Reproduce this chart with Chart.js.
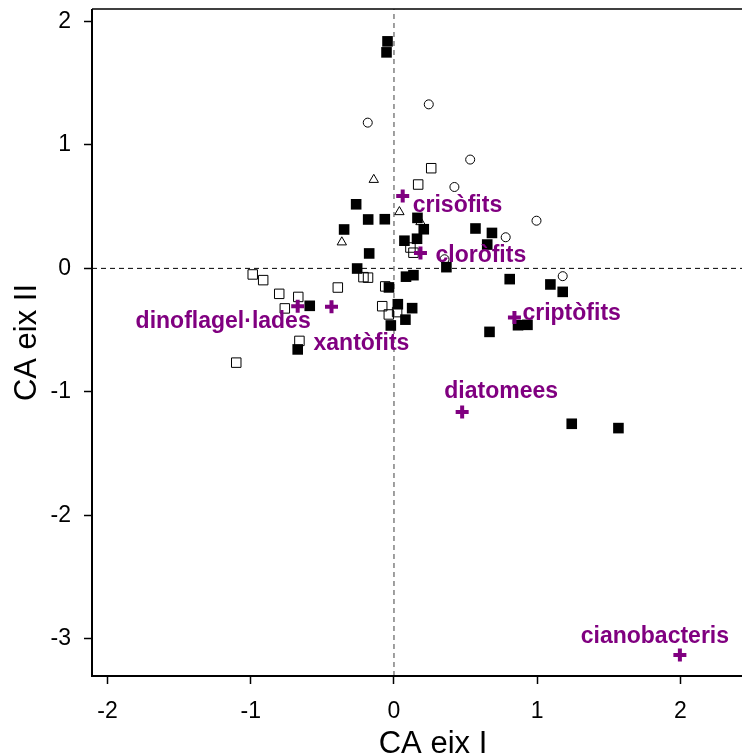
<!DOCTYPE html>
<html>
<head>
<meta charset="utf-8">
<script src="https://cdn.jsdelivr.net/npm/chart.js@4"></script>
<style>
  html, body { margin: 0; padding: 0; background: #fff; overflow: hidden; }
</style>
</head>
<body>
<canvas id="ca-chart" width="774" height="755"></canvas>
<script>
// Sample scores (filled squares)
const filledX = [-0.045, -0.052, -0.264, -0.180, -0.064, -0.348, 0.164, 0.208, 0.073, 0.161, -0.173, -0.257, 0.084, 0.136, 0.366, -0.035, -0.588, 0.027, 0.127, 0.080, -0.022, -0.672, 0.569, 0.684, 0.651, 0.808, 1.092, 1.178, 0.667, 0.866, 0.932, 1.241, 1.567];
const filledY = [1.838, 1.749, 0.519, 0.396, 0.398, 0.315, 0.409, 0.317, 0.224, 0.240, 0.121, -0.001, -0.067, -0.055, 0.010, -0.154, -0.303, -0.290, -0.322, -0.415, -0.462, -0.656, 0.323, 0.287, 0.193, -0.087, -0.130, -0.190, -0.514, -0.460, -0.457, -1.258, -1.293];

// Sample scores (open squares)
const openX = [0.260, 0.169, -0.986, -0.913, -0.801, -0.668, -0.762, -0.392, -0.660, -1.101, -0.213, -0.181, -0.061, -0.082, -0.036, 0.022, 0.115, 0.136];
const openY = [0.811, 0.679, -0.049, -0.095, -0.206, -0.231, -0.324, -0.155, -0.587, -0.763, -0.071, -0.075, -0.146, -0.306, -0.373, -0.354, 0.169, 0.127];

// Sample scores (open circles)
const circleX = [0.243, -0.183, 0.532, 0.422, 0.995, 0.780, 1.178, 0.353];
const circleY = [1.328, 1.180, 0.881, 0.659, 0.386, 0.252, -0.063, 0.074];

// Sample scores (open triangles)
const triX = [-0.141, 0.038, -0.364, 0.185];
const triY = [0.718, 0.457, 0.212, 0.376];

// Taxa scores
const taxa = ['crisòfits', 'cloròfits', 'dinoflagel·lades', 'xantòfits', 'criptòfits', 'diatomees', 'cianobacteris'];
const taxaX = [0.061, 0.185, -0.672, -0.436, 0.841, 0.476, 1.996];
const taxaY = [0.587, 0.125, -0.306, -0.311, -0.397, -1.163, -3.130];

const xTicks = [-2, -1, 0, 1, 2];
const yTicks = [-3, -2, -1, 0, 1, 2];
const xMin = -2.108, xMax = 2.653;
const yMin = -3.3, yMax = 2.1;

const purple = '#800080';
const labelOffsets = [
    { dx: 10, dy: 16, align: 'left' },
    { dx: 15, dy: 9, align: 'left' },
    { dx: 13, dy: 22, align: 'right' },
    { dx: -18, dy: 43, align: 'left' },
    { dx: 8, dy: 3, align: 'left' },
    { dx: 39, dy: -14, align: 'center' },
    { dx: -25, dy: -12, align: 'center' }
];

const pts = (xs, ys) => xs.map((v, i) => ({ x: v, y: ys[i] }));

// frame: box round the plot area
const frame = {
    id: 'frame',
    afterDraw(chart) {
        const { ctx, chartArea: a } = chart;
        ctx.save();
        ctx.strokeStyle = '#000';
        ctx.lineWidth = 1.5;
        ctx.beginPath();
        ctx.moveTo(a.left, a.top);
        ctx.lineTo(a.right, a.top);
        ctx.stroke();
        ctx.lineWidth = 2;
        ctx.beginPath();
        ctx.moveTo(a.left, a.top);
        ctx.lineTo(a.left, a.bottom);
        ctx.lineTo(a.right, a.bottom);
        ctx.stroke();
        ctx.restore();
    }
};

// taxa names next to the crosses
const taxaLabels = {
    id: 'taxaLabels',
    afterDatasetsDraw(chart) {
        const { ctx, scales: { x, y } } = chart;
        ctx.save();
        ctx.font = 'bold 23px "Liberation Sans", Arial, sans-serif';
        ctx.fillStyle = purple;
        ctx.textBaseline = 'alphabetic';
        taxa.forEach((name, i) => {
            const o = labelOffsets[i];
            ctx.textAlign = o.align;
            ctx.fillText(name, x.getPixelForValue(taxaX[i]) + o.dx, y.getPixelForValue(taxaY[i]) + o.dy);
        });
        ctx.restore();
    }
};

const tickFont = { family: '"Liberation Sans", Arial, sans-serif', size: 23 };
const titleFont = { family: '"Liberation Sans", Arial, sans-serif', size: 31 };

new Chart(document.getElementById('ca-chart').getContext('2d'), {
    type: 'scatter',
    data: {
        datasets: [
            {
                data: pts(taxaX, taxaY),
                pointStyle: 'cross', pointRadius: 6.5,
                borderColor: purple, borderWidth: 4,
                order: 0
            },
            {
                data: pts(filledX, filledY),
                pointStyle: 'rect', pointRadius: 7.5,
                backgroundColor: '#000', borderColor: '#000', borderWidth: 0,
                order: 1
            },
            {
                data: pts(triX, triY),
                pointStyle: 'triangle', pointRadius: 5.4,
                backgroundColor: 'rgba(0,0,0,0)', borderColor: '#000', borderWidth: 1,
                order: 2
            },
            {
                data: pts(circleX, circleY),
                pointStyle: 'circle', pointRadius: 4.5,
                backgroundColor: 'rgba(0,0,0,0)', borderColor: '#000', borderWidth: 1,
                order: 3
            },
            {
                data: pts(openX, openY),
                pointStyle: 'rect', pointRadius: 6.7,
                backgroundColor: 'rgba(0,0,0,0)', borderColor: '#000', borderWidth: 1,
                order: 4
            },
            {
                data: [{ x: 0, y: yMin }, { x: 0, y: yMax }],
                showLine: true, pointRadius: 0,
                borderColor: '#808080', borderWidth: 1.5, borderDash: [5, 4],
                order: 5
            },
            {
                data: [{ x: xMin, y: 0 }, { x: xMax, y: 0 }],
                showLine: true, pointRadius: 0,
                borderColor: '#000', borderWidth: 1, borderDash: [5, 4],
                order: 6
            }
        ]
    },
    options: {
        responsive: false,
        animation: false,
        layout: { autoPadding: false, padding: { top: 9, left: 0, right: 0, bottom: 0 } },
        scales: {
            x: {
                type: 'linear', position: 'bottom',
                min: xMin, max: xMax,
                afterBuildTicks: s => { s.ticks = xTicks.map(v => ({ value: v })); },
                afterFit: s => { s.height = 79; s.paddingLeft = 0; s.paddingRight = 0; },
                grid: { drawOnChartArea: false, drawTicks: true, tickLength: 8, tickColor: '#000', tickWidth: 1.5 },
                border: { display: false },
                ticks: { font: tickFont, color: '#000', padding: 14, maxRotation: 0, autoSkip: false },
                title: { display: true, text: 'CA eix I', font: titleFont, color: '#000', padding: { top: 0, bottom: -8 } }
            },
            y: {
                type: 'linear', position: 'left',
                min: yMin, max: yMax,
                afterBuildTicks: s => { s.ticks = yTicks.map(v => ({ value: v })); },
                afterFit: s => { s.width = 92; s.paddingTop = 0; s.paddingBottom = 0; },
                grid: { drawOnChartArea: false, drawTicks: true, tickLength: 8, tickColor: '#000', tickWidth: 1.5 },
                border: { display: false },
                ticks: { font: tickFont, color: '#000', padding: 13, autoSkip: false },
                title: { display: true, text: 'CA eix II', font: titleFont, color: '#000', padding: { top: 9, bottom: 0 } }
            }
        },
        plugins: {
            legend: { display: false },
            tooltip: { enabled: false }
        }
    },
    plugins: [frame, taxaLabels]
});
</script>
</body>
</html>
